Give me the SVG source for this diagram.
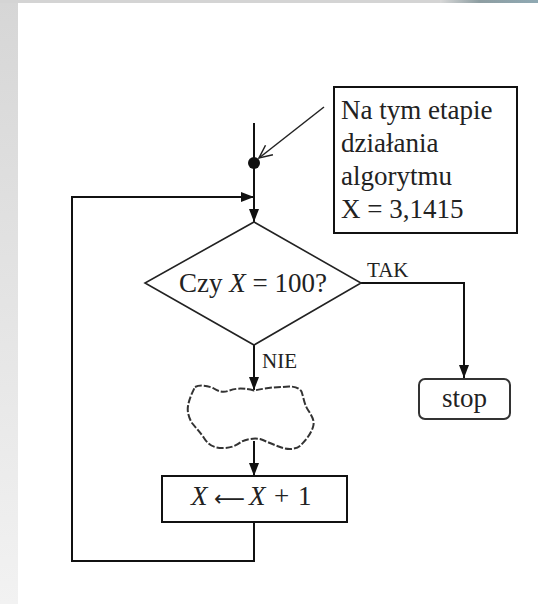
<svg xmlns="http://www.w3.org/2000/svg" width="538" height="604" viewBox="0 0 538 604">
<defs>
<linearGradient id="side" x1="0" y1="0" x2="0" y2="1">
<stop offset="0" stop-color="#d6d6d6"/>
<stop offset="1" stop-color="#f2f2f2"/>
</linearGradient>
<linearGradient id="corner" x1="0" y1="0" x2="1" y2="0">
<stop offset="0" stop-color="#d8d8d8"/>
<stop offset="0.4" stop-color="#8e9ea2"/>
<stop offset="1" stop-color="#8fa9b3"/>
</linearGradient>
<marker id="arr" markerUnits="userSpaceOnUse" markerWidth="13" markerHeight="10" refX="13" refY="5" orient="auto">
<path d="M0,0 L13,5 L0,10 z" fill="#111"/>
</marker>
<marker id="open" markerUnits="userSpaceOnUse" markerWidth="16" markerHeight="14" refX="14" refY="7" orient="auto">
<path d="M1,1 L14,7 L1,13" fill="none" stroke="#222" stroke-width="1.5"/>
</marker>
</defs>
<style>
.ln{fill:none;stroke:#111;stroke-width:2}
.box{fill:#fff;stroke:#111;stroke-width:2}
.t{font-family:"Liberation Serif","Times New Roman",serif;fill:#222;font-size:27px}
.lbl{font-family:"Liberation Serif","Times New Roman",serif;fill:#222;font-size:21px}
.it{font-style:italic}
</style>
<rect x="0" y="0" width="538" height="604" fill="#fff"/>
<rect x="0" y="0" width="18" height="604" fill="url(#side)"/>
<rect x="0" y="0" width="538" height="3" fill="#d4d4d4"/>
<rect x="440" y="0" width="98" height="3" fill="url(#corner)"/>

<g id="connectors">
<path class="ln" d="M254,123 V163"/>
<path class="ln" d="M254,163 V222" marker-end="url(#arr)"/>
<path class="ln" d="M254,522 V561 H72 V197 H254" marker-end="url(#arr)"/>
<path fill="none" stroke="#222" stroke-width="1.5" d="M324,107 L259,158" marker-end="url(#open)"/>
<path class="ln" d="M361,283 H464 V378" marker-end="url(#arr)"/>
<path class="ln" d="M254,345 V390" marker-end="url(#arr)"/>
<path class="ln" d="M254,441 V476" marker-end="url(#arr)"/>
<text class="lbl" x="367" y="277">TAK</text>
<text class="lbl" x="262" y="368">NIE</text>
</g>

<g id="junction">
<circle cx="254" cy="163" r="6" fill="#111"/>
</g>

<g id="callout">
<rect class="box" x="334" y="87" width="183" height="146"/>
<text class="t" x="341" y="119">Na tym etapie</text>
<text class="t" x="341" y="152">działania</text>
<text class="t" x="341" y="185">algorytmu</text>
<text class="t" x="341" y="218">X = 3,1415</text>
</g>

<g id="decision">
<polygon fill="#fff" stroke="#222" stroke-width="1.6" points="254,222 361,283 254,345 145,283"/>
<text class="t" x="253" y="292" text-anchor="middle">Czy <tspan class="it">X</tspan> = 100?</text>
</g>

<g id="stop">
<rect x="419" y="379" width="91" height="40" rx="6" fill="#fff" stroke="#333" stroke-width="2"/>
<text class="t" x="464.5" y="407" text-anchor="middle">stop</text>
</g>

<g id="cloud">
<path fill="#fff" stroke="#333" stroke-width="2" stroke-dasharray="7 2" d="M195,387 C199,385 206,385 213,388 C218,391 222,393 228,391 C234,389 240,387 254,390.5 C262,389 272,387 282,387 C290,386 298,386 301.5,391.5 C303.5,397 304,404 308,410 C312,416 315,421 313,427 C311,434 305,441 301,445 C297,449 290,450 283,448 C276,446 268,442 260,439 C254,438 246,439 241,442 C237,445 232,448 223,448 C215,448 209,446 204,438 C200,432 196,428 192,423 C189,418 187,412 188,406 C189,400 191,395 195,387 Z"/>
</g>

<g id="process">
<rect class="box" x="162" y="476" width="185" height="46"/>
<text class="t" y="505"><tspan class="it" x="191">X</tspan><tspan class="it" x="249">X</tspan><tspan x="274">+</tspan><tspan x="298">1</tspan></text>
<text x="214" y="506" textLength="31" lengthAdjust="spacingAndGlyphs" style="font-family:'DejaVu Sans',sans-serif;font-size:22px;fill:#222">⟵</text>
</g>
</svg>
